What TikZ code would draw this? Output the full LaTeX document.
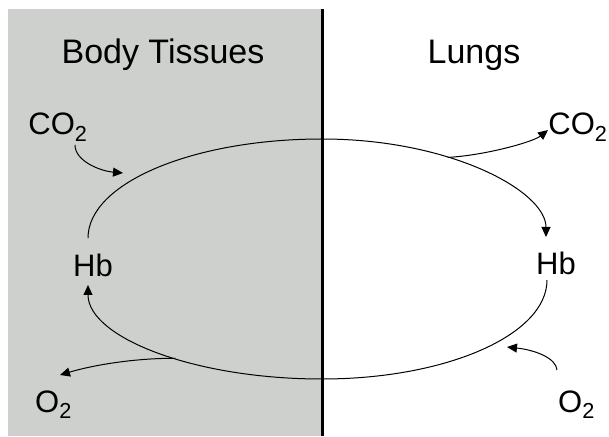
\documentclass[tikz,border=0pt]{standalone}
\usepackage{fontspec}
\setmainfont{Liberation Sans}
\usetikzlibrary{arrows.meta}
\definecolor{tissue}{RGB}{205,208,204}
\begin{document}
\begin{tikzpicture}[x=1pt,y=1pt,line width=1pt,>={Triangle[length=10pt,width=9pt]},
  lbl/.style={anchor=base,inner sep=0pt,font=\fontsize{31}{37}\selectfont},
  head/.style={anchor=base,inner sep=0pt,font=\fontsize{34}{40}\selectfont}]
\useasboundingbox (0,0) rectangle (609,436);
\fill[tissue] (8,0) rectangle (322,427);
\draw[line width=3pt] (322,0) -- (322,427);
\node[head] (tis) at (163,372) {Body Tissues};
\node[head] (lng) at (474,372) {Lungs};
\node[lbl] (hbL) at (93,159) {Hb};
\node[lbl] (hbR) at (556,161) {Hb};
\node[lbl] (co2L) at (58,301) {CO\textsubscript{2}};
\node[lbl] (co2R) at (578,301) {CO\textsubscript{2}};
\node[lbl] (o2L) at (53.5,24) {O\textsubscript{2}};
\node[lbl] (o2R) at (576.5,24) {O\textsubscript{2}};
\coordinate (co2in) at (123,263);
\coordinate (o2in) at (507,89);
\draw[->] ([shift={(-5,39)}]hbL.base) .. controls +(0,55) and (193,297) .. (322,297)
  .. controls (450,297) and +(0,46) .. ([shift={(-10,38)}]hbR.base) coordinate[pos=0.37] (co2out);
\draw[->] ([shift={(-9,-5)}]hbR.base) .. controls +(0,-55) and (446,57) .. (322,57)
  .. controls (193,57) and +(0,-52) .. ([shift={(-5,-8)}]hbL.base) coordinate[pos=0.43] (o2out);
\draw[->] ([shift={(17,-10)}]co2L.base) .. controls +(0,-16) and +(-23,2) .. (co2in);
\draw[->] (co2out) .. controls +(37,2) and +(-15,-12) .. ([shift={(-30,5)}]co2R.base);
\draw[->] (o2out) .. controls +(-45,0) and +(30,9) .. ([shift={(6.5,37)}]o2L.base);
\draw[->] ([shift={(-19.5,42)}]o2R.base) .. controls +(-1,12) and +(28,-3) .. (o2in);
\end{tikzpicture}
\end{document}
